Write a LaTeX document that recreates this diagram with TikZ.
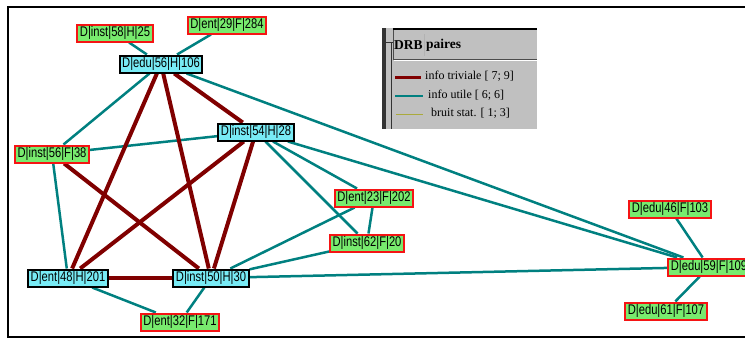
\documentclass[tikz,border=0pt]{standalone}
\usepackage{fontspec}
\setmainfont{Liberation Serif}
\newfontfamily\nodefont[FakeStretch=0.8]{Liberation Sans}
\usetikzlibrary{backgrounds}

\definecolor{fondvert}{RGB}{120,235,110}
\definecolor{fondcyan}{RGB}{120,235,245}
\definecolor{bordrouge}{RGB}{245,20,20}
\definecolor{sarcelle}{RGB}{0,128,128}
\definecolor{bordeaux}{RGB}{128,0,0}
\definecolor{olive}{RGB}{170,170,60}
\definecolor{gris}{RGB}{192,192,192}

\tikzset{
  gnode/.style={draw=bordrouge, fill=fondvert, line width=2pt, inner xsep=2.5pt,
    inner ysep=0pt, minimum height=17pt, font=\nodefont\fontsize{14}{14}\selectfont},
  cnode/.style={gnode, draw=black, fill=fondcyan},
  triv/.style={draw=bordeaux, line width=4pt},
  util/.style={draw=sarcelle, line width=2.5pt},
  bruit/.style={draw=olive, line width=1pt},
  legtext/.style={anchor=west, inner sep=0pt, font=\fontsize{12}{12}\selectfont}
}

\begin{document}
\begin{tikzpicture}[x=1pt,y=-1pt]
\useasboundingbox (0,0) rectangle (745,338);

% cadre
\begin{scope}
\clip (0,0) rectangle (745,338);
\draw[line width=2pt] (8,7) rectangle (760,337);
\end{scope}

% noeuds
\node[gnode] (inst58) at (115,33) {D|inst|58|H|25};
\node[gnode] (ent29) at (227,25) {D|ent|29|F|284};
\node[cnode] (edu56) at (161,64) {D|edu|56|H|106};
\node[cnode] (inst54) at (256,132) {D|inst|54|H|28};
\node[gnode] (inst56) at (52,154) {D|inst|56|F|38};
\node[gnode] (ent23) at (374,198) {D|ent|23|F|202};
\node[gnode] (inst62) at (367,243) {D|inst|62|F|20};
\node[cnode] (ent48) at (68,278) {D|ent|48|H|201};
\node[cnode] (inst50) at (211,278) {D|inst|50|H|30};
\node[gnode] (ent32) at (180,322) {D|ent|32|F|171};
\node[gnode] (edu46) at (670,209) {D|edu|46|F|103};
\node[gnode] (edu59) at (709,267) {D|edu|59|F|109};
\node[gnode] (edu61) at (666,311) {D|edu|61|F|107};

% liens
\begin{scope}[on background layer]
\foreach \a/\b in {inst58/edu56, ent29/edu56, edu56/inst56, edu56/edu59,
  inst54/inst56, inst54/ent23, inst54/inst62, inst54/edu59, ent23/inst62,
  ent23/inst50, inst62/inst50, inst50/edu59, inst56/ent48, ent48/ent32,
  inst50/ent32, edu46/edu59, edu59/edu61}
  \draw[util] (\a) -- (\b);
\foreach \a/\b in {edu56/ent48, edu56/inst50, edu56/inst54, inst54/ent48,
  inst54/inst50, inst56/inst50, ent48/inst50}
  \draw[triv] (\a) -- (\b);
\end{scope}

% legende
\fill[gris] (382,28) rectangle (537,129);
\fill[black!80] (382,28) rectangle (386,129);
\draw[line width=1pt, black!80] (391,42) -- (391,129);
\draw[line width=1pt, black!80] (386,42) -- (393,42);
\draw[line width=2.5pt] (393,29) -- (537,29);
\draw[line width=1pt, black!70] (393,30) -- (393,59) -- (537,59);
\draw[white] (394,60.5) -- (537,60.5);
\draw[black!30] (424,34) -- (424,56);
\node[legtext, font=\bfseries\fontsize{13.5}{13.5}\selectfont] (drb) at (394,45) {DRB};
\node[legtext, font=\bfseries\fontsize{13.5}{13.5}\selectfont] (paires) at (426,45) {paires};
\coordinate (t1) at (395,77);
\coordinate (t2) at (395,96);
\coordinate (t3) at (396,114);
\draw[draw=bordeaux, line width=3pt] (t1) -- ++(26,0);
\draw[draw=sarcelle, line width=2.5pt] (t2) -- ++(28,0);
\draw[bruit] (t3) -- ++(27,0);
\node[legtext] (ltriv) at (425,76) {info triviale [ 7; 9]};
\node[legtext] (lutil) at (428,95) {info utile [ 6; 6]};
\node[legtext] (lbruit) at (431,113) {bruit stat. [ 1; 3]};

\end{tikzpicture}
\end{document}
